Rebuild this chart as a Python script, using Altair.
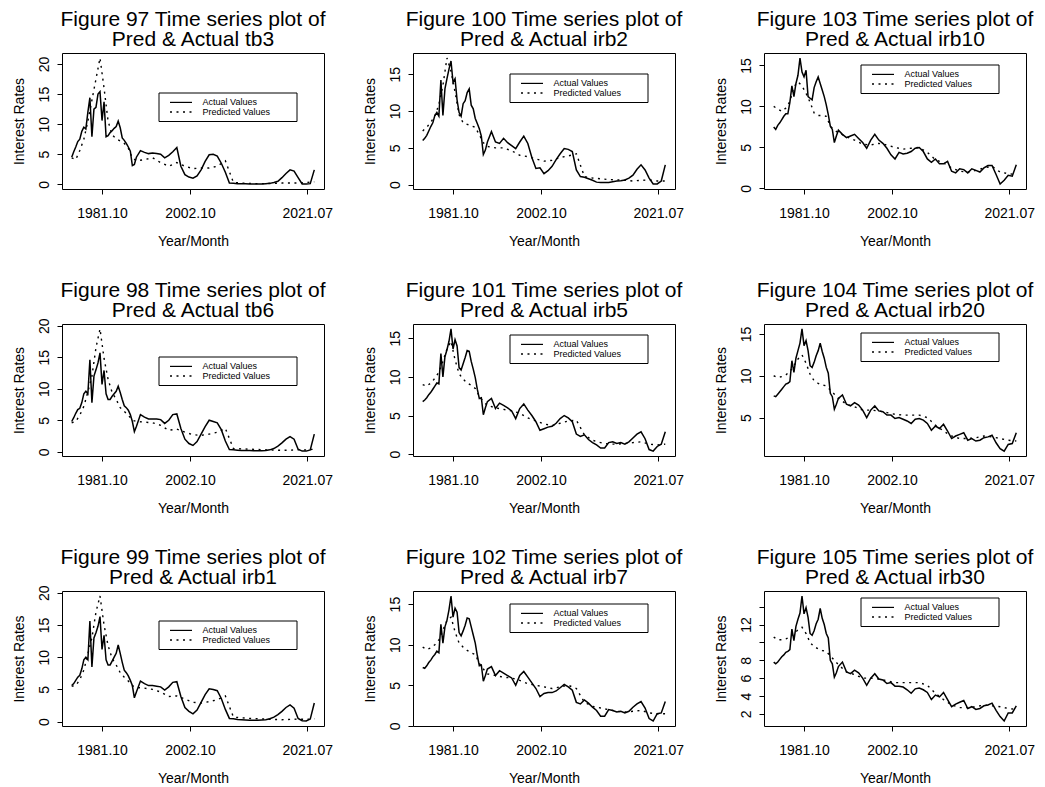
import altair as alt
import pandas as pd

FONT = "Liberation Sans"

# Observation index (x) for the actual and the predicted series
T_ACT = list(range(0, 65, 2)) + list(range(68, 241, 4))
T_PRED = list(range(0, 65, 4)) + list(range(72, 241, 8))

TICK_POS = [30, 117, 233]
TICK_LABELS = ["1981.10", "2002.10", "2021.07"]

# ---- short rates ----
TB3_ACTUAL = [4.5, 5.4, 6.2, 7.1, 7.5, 8.8, 9.5, 9.2, 12.0, 14.4, 7.9, 12.5, 12.8, 15.0, 15.4,
              10.6, 13.7, 7.9, 8.1, 8.6, 8.9, 9.3, 9.6, 10.5, 9.4, 7.7, 7.3, 6.8, 6.2, 5.5,
              3.1, 3.3, 4.5,
              5.6, 5.3, 5.1, 5.2, 5.1, 5.0, 4.4, 4.8, 5.4, 6.1,
              3.0, 1.6, 1.2, 1.0, 1.4, 2.4, 3.8, 4.9, 5.0, 4.7,
              3.5, 2.0, 0.2, 0.15, 0.1, 0.1, 0.1, 0.05, 0.05, 0.05,
              0.05, 0.1, 0.15, 0.3, 0.5, 1.1, 1.8, 2.4, 2.2, 1.1,
              0.05, 0.05, 0.1, 2.4]
TB3_PRED = [4.4, 4.1, 5.6, 7.5, 10.5, 14.0, 17.5, 21.0, 16.0, 10.5, 8.2, 7.6, 7.2, 6.8, 6.0, 4.4, 3.9,
            4.1, 4.4, 3.6, 3.0, 3.6, 3.0, 2.6, 2.7, 2.7, 3.0, 3.9,
            0.3, 0.2, 0.15, 0.1, 0.1, 0.15, 0.2, 0.2, 0.2, 0.3, 0.4]

TB6_ACTUAL = [4.8, 5.4, 6.1, 6.7, 6.9, 7.8, 9.2, 9.6, 9.2, 14.6, 7.8, 12.0, 13.0, 14.1, 15.7,
              10.7, 12.9, 9.2, 8.3, 8.3, 8.8, 9.2, 9.6, 10.4, 9.4, 8.3, 7.3, 7.0, 6.6, 5.9,
              4.8, 3.2, 4.0,
              5.9, 5.5, 5.2, 5.2, 5.2, 5.1, 4.5, 5.0, 5.9, 6.0,
              3.7, 2.0, 1.3, 1.0, 1.6, 2.8, 4.0, 5.0, 4.8, 4.6,
              3.5, 1.7, 0.35, 0.3, 0.25, 0.2, 0.2, 0.2, 0.15, 0.15,
              0.15, 0.2, 0.3, 0.5, 0.9, 1.4, 2.0, 2.4, 2.0, 0.4,
              0.1, 0.1, 0.3, 2.8]
TB6_PRED = [4.6, 4.8, 5.8, 7.2, 9.5, 12.0, 16.5, 19.5, 14.8, 11.5, 9.4, 8.3, 7.0, 6.4, 5.8, 5.0, 4.8,
            4.7, 4.6, 4.2, 3.4, 3.6, 3.1, 2.7, 2.6, 2.8, 3.1, 3.7,
            0.5, 0.45, 0.4, 0.35, 0.3, 0.26, 0.22, 0.25, 0.3, 0.3, 0.4]

IRB1_ACTUAL = [5.6, 5.9, 6.4, 6.9, 7.2, 8.2, 9.6, 10.0, 9.6, 15.6, 8.5, 13.0, 13.8, 14.8, 16.3,
               11.2, 13.4, 9.6, 8.8, 8.8, 9.4, 10.0, 10.6, 11.9, 10.6, 9.2, 8.0, 7.6, 7.1, 6.4,
               5.6, 3.7, 4.6,
               6.3, 5.9, 5.6, 5.6, 5.5, 5.4, 4.9, 5.4, 6.1, 6.2,
               3.9, 2.2, 1.6, 1.2, 1.8, 3.0, 4.2, 5.1, 5.0, 4.8,
               3.6, 1.9, 0.5, 0.45, 0.35, 0.3, 0.25, 0.2, 0.2, 0.2,
               0.25, 0.3, 0.45, 0.7, 1.1, 1.6, 2.2, 2.6, 2.1, 0.5,
               0.15, 0.1, 0.4, 2.9]
IRB1_PRED = [5.5, 5.6, 6.5, 8.0, 10.5, 13.0, 17.0, 19.5, 15.0, 11.8, 9.8, 8.8, 7.6, 6.9, 6.3, 5.6, 5.3,
             5.2, 5.0, 4.6, 3.9, 4.0, 3.5, 3.0, 2.9, 3.1, 3.4, 4.0,
             0.7, 0.6, 0.5, 0.45, 0.4, 0.35, 0.3, 0.35, 0.4, 0.35, 0.45]

# ---- bond yields ----
IRB2_ACTUAL = [6.0, 6.3, 6.7, 7.3, 7.9, 8.4, 9.4, 9.8, 9.3, 14.2, 9.4, 13.0, 14.4, 15.7, 16.8,
               13.9, 14.4, 11.5, 9.8, 9.3, 11.0, 11.4, 12.5, 13.0, 10.8, 10.3, 9.0, 8.3, 7.6, 6.6,
               4.1, 4.7, 5.8,
               7.2, 5.8, 5.6, 6.3, 5.7, 5.3, 4.9, 5.8, 6.6, 5.6,
               3.7, 2.2, 2.3, 1.5, 1.9, 2.5, 3.4, 4.2, 4.9, 4.8,
               4.5, 2.0, 1.1, 1.0, 0.8, 0.6, 0.35, 0.3, 0.3, 0.3,
               0.4, 0.5, 0.55, 0.65, 0.9, 1.3, 2.1, 2.7, 2.0, 0.9,
               0.1, 0.1, 0.5, 2.7]
IRB2_PRED = [7.3, 7.8, 8.5, 9.3, 10.9, 13.5, 17.2, 15.4, 12.6, 9.5, 8.4, 8.2, 8.0, 7.8, 6.8, 5.7, 5.2,
             5.0, 5.0, 4.6, 4.0, 3.8, 3.5, 3.2, 3.3, 3.7, 3.9, 4.2,
             1.1, 0.9, 0.8, 0.7, 0.65, 0.6, 0.5, 0.6, 0.65, 0.5, 0.5]

IRB5_ACTUAL = [6.8, 7.0, 7.3, 7.7, 8.0, 8.4, 8.8, 9.2, 9.1, 13.0, 10.0, 12.6, 13.5, 14.6, 16.2,
               13.6, 14.8, 14.0, 11.2, 10.9, 11.7, 12.5, 13.4, 13.3, 12.0, 11.0, 9.9, 8.4, 7.2, 7.3,
               5.1, 6.0, 6.8,
               7.2, 5.9, 6.6, 6.3, 6.0, 5.6, 4.6, 5.9, 6.5, 5.7,
               5.0, 4.2, 3.1, 3.3, 3.5, 3.6, 4.0, 4.6, 5.0, 4.7,
               4.2, 2.6, 2.3, 2.5, 1.9, 1.5, 1.2, 0.8, 0.8, 1.5,
               1.6, 1.4, 1.5, 1.3, 1.6, 2.1, 2.6, 2.9, 2.0, 0.6,
               0.4, 1.0, 1.3, 2.9]
IRB5_PRED = [9.0, 8.8, 9.2, 9.8, 10.6, 12.0, 13.6, 14.6, 12.2, 10.4, 9.7, 9.2, 8.9, 8.5, 7.5, 6.8, 6.3,
             6.0, 5.8, 5.6, 5.3, 4.7, 4.3, 3.9, 3.7, 4.0, 4.3, 4.4,
             2.5, 1.8, 1.5, 1.3, 1.3, 1.4, 1.5, 1.6, 1.3, 1.2, 1.3]

IRB7_ACTUAL = [7.2, 7.1, 7.4, 7.8, 8.1, 8.5, 8.8, 9.2, 9.0, 12.5, 10.2, 12.2, 13.0, 14.3, 16.0,
               13.4, 14.5, 14.0, 11.5, 11.1, 11.7, 12.4, 13.3, 13.2, 12.2, 11.2, 10.2, 8.7, 7.4, 7.5,
               5.5, 6.2, 7.0,
               7.3, 6.2, 6.8, 6.5, 6.2, 5.9, 5.0, 6.2, 6.7, 6.0,
               5.3, 4.6, 3.6, 4.0, 4.1, 4.1, 4.3, 4.7, 5.1, 4.8,
               4.4, 2.9, 2.7, 3.2, 2.8, 2.3, 1.9, 1.2, 1.2, 2.0,
               1.9, 1.7, 1.8, 1.6, 1.8, 2.3, 2.7, 3.0, 2.2, 0.9,
               0.6, 1.5, 1.6, 3.0]
IRB7_PRED = [9.7, 9.4, 9.6, 10.0, 10.6, 11.8, 13.0, 13.4, 11.6, 10.2, 9.7, 9.3, 9.0, 8.8, 7.7, 7.0, 6.4,
             6.2, 6.0, 5.9, 5.6, 5.2, 5.0, 4.8, 4.6, 4.8, 5.0, 4.6,
             2.9, 2.4, 2.2, 2.0, 1.8, 1.7, 1.8, 1.9, 1.6, 1.5, 1.5]

IRB10_ACTUAL = [7.5, 7.2, 7.7, 8.0, 8.4, 8.8, 9.1, 9.1, 10.5, 12.5, 11.2, 12.8, 13.8, 15.9, 14.2,
                13.6, 14.4, 11.2, 11.0, 10.8, 12.3, 13.0, 13.6, 12.8, 12.0, 11.2, 10.2, 9.0, 7.6, 7.2,
                5.6, 6.4, 7.1,
                6.6, 6.2, 6.4, 6.6, 6.1, 5.6, 4.9, 5.9, 6.6, 5.9,
                5.5, 4.9, 4.1, 3.6, 4.4, 4.2, 4.3, 4.5, 4.9, 5.0,
                4.5, 3.6, 3.2, 3.6, 3.0, 3.0, 3.3, 2.1, 1.9, 2.4,
                2.3, 1.9, 2.4, 2.2, 2.0, 2.5, 2.8, 2.8, 1.7, 0.55,
                1.0, 1.6, 1.5, 2.9]
IRB10_PRED = [10.0, 9.7, 9.4, 9.8, 10.6, 12.4, 13.0, 12.5, 11.6, 10.5, 9.2, 8.9, 8.9, 8.8, 7.6, 7.1, 6.8,
              6.3, 5.9, 5.4, 5.3, 5.5, 5.3, 5.0, 4.8, 4.9, 5.0, 4.4,
              3.5, 3.1, 2.5, 2.1, 2.0, 2.2, 2.5, 2.7, 2.0, 1.8, 1.7]

IRB20_ACTUAL = [7.6, 7.5, 7.8, 8.1, 8.4, 8.7, 9.0, 9.1, 9.3, 11.8, 10.4, 12.1, 13.0, 13.9, 15.6,
                13.6, 14.2, 13.0, 11.2, 11.0, 11.6, 12.4, 13.0, 13.9, 12.9, 12.1, 11.0, 10.3, 7.9, 7.5,
                6.0, 6.6, 7.3,
                7.7, 6.6, 6.4, 6.8, 6.5, 5.9, 5.0, 5.9, 6.4, 5.8,
                5.7, 5.3, 5.3, 4.9, 5.0, 4.8, 4.6, 4.3, 4.8, 4.9,
                4.7, 4.3, 3.5, 4.0, 3.7, 4.2, 3.4, 2.5, 2.8, 3.0,
                3.2, 2.3, 2.5, 2.2, 2.3, 2.6, 2.7, 2.9, 2.0, 1.3,
                1.0, 1.8, 1.9, 3.2]
IRB20_PRED = [10.0, 9.8, 9.9, 10.1, 10.5, 11.2, 12.0, 12.5, 11.5, 10.2, 9.4, 9.1, 8.9, 8.8, 8.3, 7.8, 7.3,
              6.6, 6.3, 5.9, 5.9, 5.8, 5.6, 5.4, 5.3, 5.3, 5.3, 5.0,
              4.1, 3.4, 2.8, 2.5, 2.5, 2.6, 2.8, 2.7, 2.5, 2.3, 2.2]

IRB30_ACTUAL = [7.8, 7.6, 7.8, 8.1, 8.4, 8.6, 8.9, 9.0, 9.2, 11.5, 10.2, 11.8, 12.6, 13.3, 15.2,
                13.2, 13.9, 12.8, 11.0, 10.8, 11.3, 12.1, 12.6, 13.8, 12.7, 12.0, 11.0, 10.5, 8.0, 7.6,
                6.1, 6.6, 7.3,
                7.8, 6.7, 6.5, 6.9, 6.6, 6.0, 5.2, 6.0, 6.5, 5.9,
                5.8, 5.4, 5.5, 5.1, 5.1, 5.0, 4.7, 4.3, 4.8, 4.9,
                4.7, 4.4, 3.6, 4.1, 3.9, 4.4, 3.6, 2.8, 3.1, 3.3,
                3.5, 2.6, 2.8, 2.5, 2.6, 2.9, 3.0, 3.2, 2.4, 1.7,
                1.2, 2.1, 2.1, 2.9]
IRB30_PRED = [10.6, 10.3, 10.3, 10.4, 10.6, 11.0, 11.4, 11.7, 11.0, 10.0, 9.5, 9.3, 9.1, 9.0, 8.5, 8.0, 7.5,
              6.7, 6.4, 6.0, 6.0, 5.9, 5.7, 5.5, 5.5, 5.5, 5.5, 5.2,
              4.3, 3.6, 3.0, 2.7, 2.7, 2.8, 3.0, 2.9, 2.8, 2.6, 2.5]

# Panels in reading order: (figure no., series name, actual, predicted,
# y tick values, y tick values left unlabelled, legend top offset, plot height)
PANELS = [
    (97, "tb3", TB3_ACTUAL, TB3_PRED, [0, 5, 10, 15, 20], [], 40, 136),
    (100, "irb2", IRB2_ACTUAL, IRB2_PRED, [0, 5, 10, 15], [], 21, 136),
    (103, "irb10", IRB10_ACTUAL, IRB10_PRED, [0, 5, 10, 15], [], 12, 136),
    (98, "tb6", TB6_ACTUAL, TB6_PRED, [0, 5, 10, 15, 20], [], 33, 132),
    (101, "irb5", IRB5_ACTUAL, IRB5_PRED, [0, 5, 10, 15], [], 11, 132),
    (104, "irb20", IRB20_ACTUAL, IRB20_PRED, [5, 10, 15], [], 9, 132),
    (99, "irb1", IRB1_ACTUAL, IRB1_PRED, [0, 5, 10, 15, 20], [], 30, 135),
    (102, "irb7", IRB7_ACTUAL, IRB7_PRED, [0, 5, 10, 15], [], 13, 135),
    (105, "irb30", IRB30_ACTUAL, IRB30_PRED, [2, 4, 6, 8, 10, 12, 14], [10, 14], 7, 135),
]

PANEL_W = 262
DOTS = [2, 4.5]

x_expr = "".join(f"datum.value == {p} ? '{l}' : " for p, l in zip(TICK_POS, TICK_LABELS)) + "''"


def label(text, x, y, size, align="left", baseline="middle"):
    return alt.Chart(pd.DataFrame({"k": [0]})).mark_text(
        align=align, baseline=baseline, fontSize=size, font=FONT, color="black"
    ).encode(x=alt.value(x), y=alt.value(y), text=alt.value(text))


def panel(fig, name, actual, pred, yticks, yhide, leg_top, h):
    df_a = pd.DataFrame({"t": T_ACT, "v": actual})
    df_p = pd.DataFrame({"t": T_PRED, "v": pred})
    vals = actual + pred
    lo, hi = min(vals), max(vals)
    ypad = 0.04 * (hi - lo)
    xpad = 0.04 * (max(T_ACT) - min(T_ACT))

    xscale = alt.Scale(domain=[min(T_ACT) - xpad, max(T_ACT) + xpad], nice=False, zero=False)
    yscale = alt.Scale(domain=[lo - ypad, hi + ypad], nice=False, zero=False)

    if yhide:
        y_expr = "indexof(" + str(yhide) + ", datum.value) >= 0 ? '' : datum.label"
    else:
        y_expr = "datum.label"

    X = alt.X("t:Q", scale=xscale,
              axis=alt.Axis(values=TICK_POS, labelExpr=x_expr, title="Year/Month",
                            titleY=56.5, titleBaseline="alphabetic",
                            labelBaseline="top", labelPadding=12.6, labelFlush=False,
                            labelOverlap=False, tickSize=5, grid=False, domain=False))
    Y = alt.Y("v:Q", scale=yscale,
              axis=alt.Axis(values=yticks, labelExpr=y_expr, title="Interest Rates",
                            titleX=-39, titleAngle=270, titleBaseline="alphabetic",
                            titleAlign="center",
                            labelAngle=270, labelAlign="center", labelBaseline="alphabetic",
                            labelPadding=9, labelFlush=False, labelOverlap=False,
                            tickSize=5, grid=False, domain=False))

    act = alt.Chart(df_a).mark_line(color="black", strokeWidth=1.5).encode(x=X, y=Y)
    prd = alt.Chart(df_p).mark_line(color="black", strokeWidth=1.4,
                                    strokeDash=DOTS).encode(x=X, y=Y)

    one = pd.DataFrame({"k": [0]})
    L = 97
    box = alt.Chart(one).mark_rect(fill="white", stroke="black", strokeWidth=1).encode(
        x=alt.value(L), x2=alt.value(L + 138),
        y=alt.value(leg_top), y2=alt.value(leg_top + 28.5))
    solid = alt.Chart(one).mark_rule(color="black", strokeWidth=1.2).encode(
        x=alt.value(L + 11), x2=alt.value(L + 33), y=alt.value(leg_top + 9.4))
    dotted = alt.Chart(one).mark_rule(color="black", strokeWidth=1.3, strokeDash=DOTS).encode(
        x=alt.value(L + 11), x2=alt.value(L + 33), y=alt.value(leg_top + 19))
    t1 = label("Actual Values", L + 43.6, leg_top + 9.4, 9)
    t2 = label("Predicted Values", L + 43.6, leg_top + 19, 9)

    # two-line heading above the plot box
    h1 = label(f"Figure {fig} Time series plot of", PANEL_W / 2, -27.5, 21,
               align="center", baseline="alphabetic")
    h2 = label(f"Pred & Actual {name}", PANEL_W / 2, -6.8, 21,
               align="center", baseline="alphabetic")

    return alt.layer(act, prd, box, solid, dotted, t1, t2, h1, h2).properties(
        width=PANEL_W, height=h)


cells = [panel(*p) for p in PANELS]

chart = alt.concat(
    *cells, columns=3, spacing={"row": 135, "column": 89}, bounds="flush"
).properties(
    autosize=alt.AutoSizeParams(type="none"),
    padding={"left": 62, "top": 53, "right": 983, "bottom": 734},
    background="white",
).configure_view(
    stroke="black", strokeWidth=1
).configure_axis(
    labelFont=FONT, labelFontSize=14, labelColor="black",
    titleFont=FONT, titleFontSize=14, titleFontWeight="normal", titleColor="black",
    tickColor="black", tickWidth=1,
)

chart.save("out.html", embed_options={"renderer": "svg", "actions": False})
